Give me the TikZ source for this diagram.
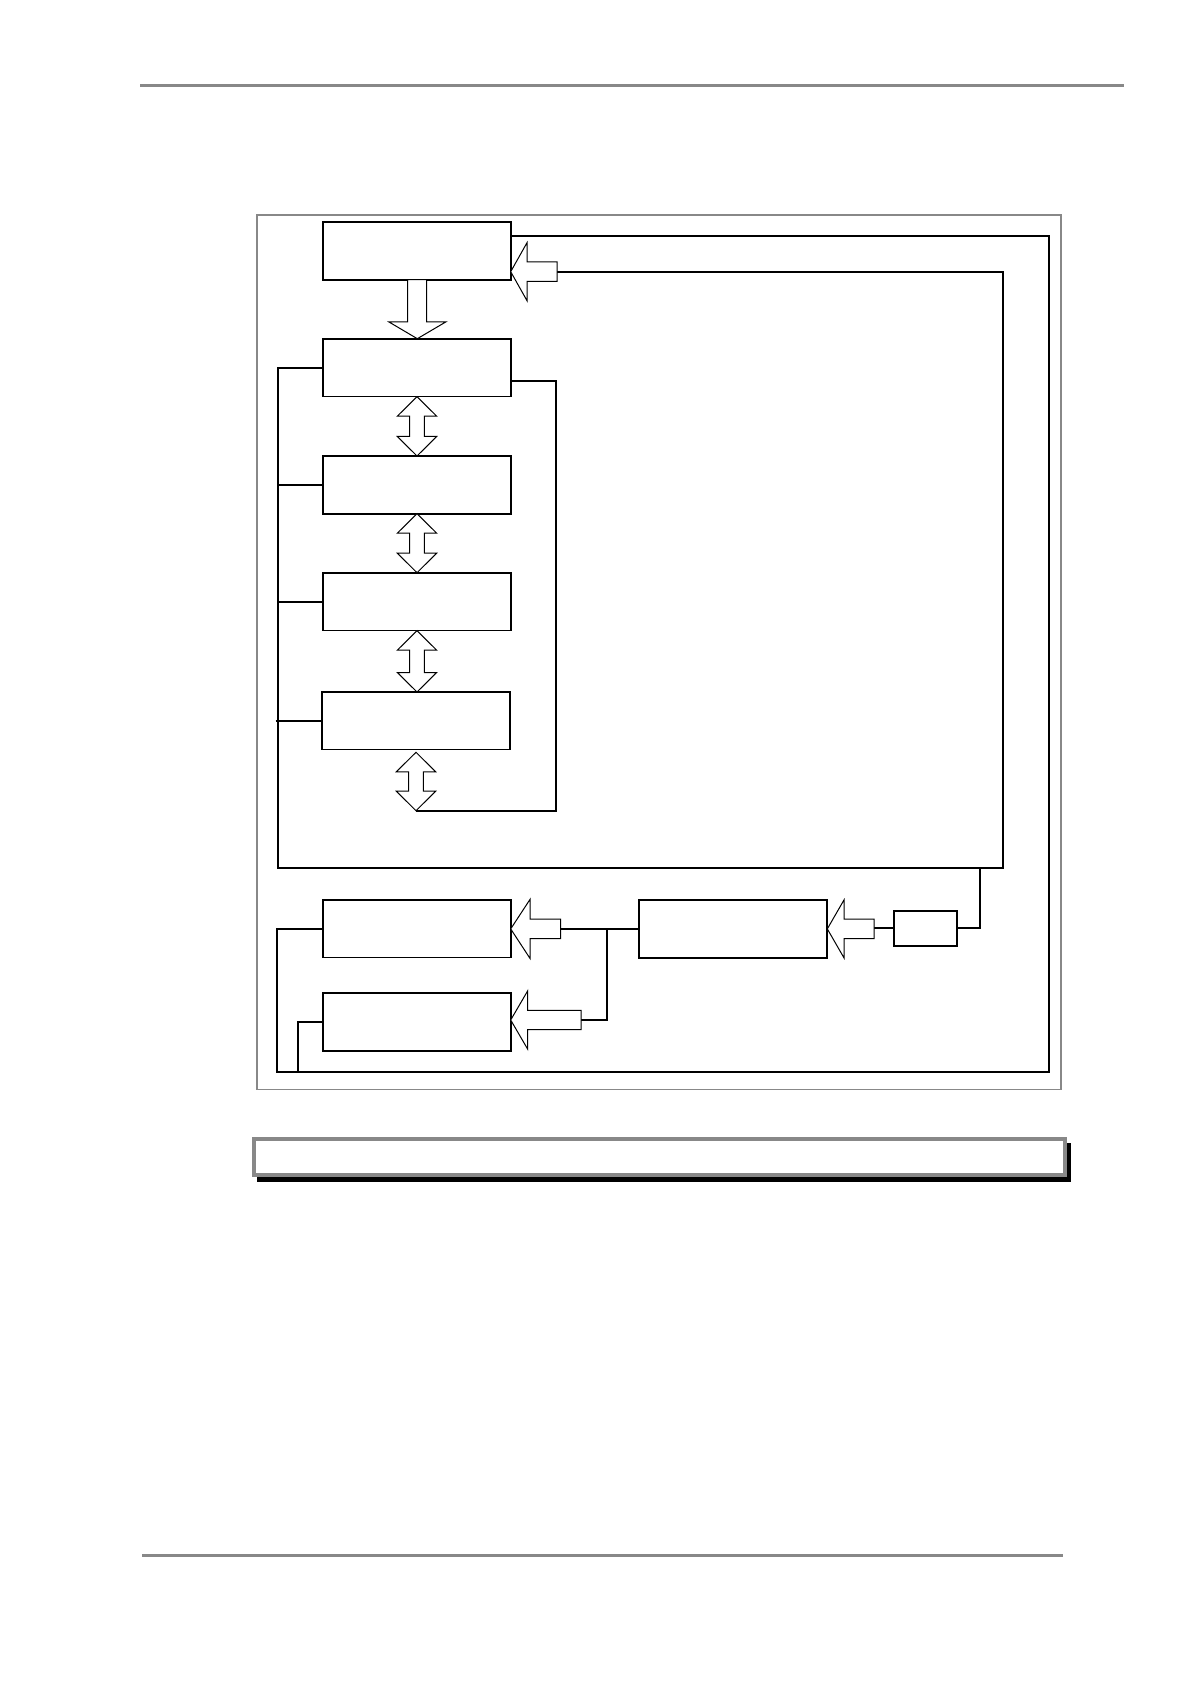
\documentclass[tikz,border=0pt]{standalone}
\definecolor{framegray}{HTML}{888888}
\newcommand\lblk[6]{\draw[blk] (#1,#2) -- (#3,{#2-#4}) -- (#3,{#2-#5}) -- (#6,{#2-#5}) -- (#6,{#2+#5}) -- (#3,{#2+#5}) -- (#3,{#2+#4}) -- cycle;}
\newcommand\dblk[3]{\draw[blk] (#1,#2) -- ({#1+19.7},{#2+19.5}) -- ({#1+7.3},{#2+19.5}) -- ({#1+7.3},{#3-19.5}) -- ({#1+19.7},{#3-19.5}) -- (#1,#3) -- ({#1-19.7},{#3-19.5}) -- ({#1-7.3},{#3-19.5}) -- ({#1-7.3},{#2+19.5}) -- ({#1-19.7},{#2+19.5}) -- cycle;}
\begin{document}
\begin{tikzpicture}[x=0.5pt,y=-0.5pt,
  box/.style={draw,line width=0.85pt,minimum width=93.7pt,minimum height=28.85pt,inner sep=0pt,outer sep=0pt},
  wire/.style={line width=0.85pt,line join=miter},
  blk/.style={draw,line width=0.5pt,fill=white,line join=miter},
  frm/.style={draw=framegray,line width=0.8pt}]
\useasboundingbox (0,0) rectangle (1191,1684);
% page rules
\draw[framegray,line width=1.5pt] (140,85.3) -- (1124,85.3);
\draw[framegray,line width=1.5pt] (142,1555.3) -- (1062.7,1555.3);
% frame
\draw[frm] (257,215) rectangle (1061,1089.5);
% boxes
\node[box] (b1) at (417,251) {};
\node[box] (b2) at (417,367.7) {};
\node[box] (b3) at (417,485) {};
\node[box] (b4) at (417,601.7) {};
\node[box,minimum width=94.15pt] (b5) at (415.85,720.7) {};
\node[box] (b6) at (417,928.7) {};
\node[box] (b7) at (417,1021.9) {};
\node[box,minimum width=94pt] (b8) at (733.3,928.9) {};
\node[box,minimum width=31.5pt,minimum height=17.65pt] (b9) at (925.8,928.3) {};
% coordinates
\coordinate (o1) at (1049,235.7);
\coordinate (o2) at (1049,1072.3);
\coordinate (o3) at (277.3,1072.3);
\coordinate (o4) at (297.7,1072.3);
\coordinate (a1end) at (557,271.7);
\coordinate (i1) at (1003.3,271.7);
\coordinate (i2) at (1003.3,868);
\coordinate (i3) at (277.7,868);
\coordinate (k1) at (979.7,868);
\coordinate (r1) at (555.7,381);
\coordinate (r2) at (555.7,810.7);
\coordinate (r3) at (416,810.7);
\coordinate (a8end) at (874,928.3);
\coordinate (a6end) at (560.7,928.9);
\coordinate (j1) at (607,928.9);
\coordinate (j2) at (607,1020);
\coordinate (a7end) at (581,1020);
% wires
\draw[wire] (b1.east |- o1) -- (o1) -- (o2) -- (o3) |- (b6.west);
\draw[wire] (o4) |- (b7.west);
\draw[wire] (a1end) -- (i1) -- (i2) -- (i3) |- (b2.west);
\draw[wire] (b3.west -| i3) -- (b3.west);
\draw[wire] (b4.west -| i3) -- (b4.west);
\draw[wire] ([xshift=-1pt]b5.west -| i3) -- (b5.west);
\draw[wire] (b2.east |- r1) -- (r1) -- (r2) -- (r3);
\draw[wire] (k1) |- (b9.east);
\draw[wire] (b9.west) -- (a8end);
\draw[wire] (b8.west) -- (a6end);
\draw[wire] (j1) -- (j2) -- (a7end);
% block arrows
\lblk{510.7}{271.7}{527}{29}{9.8}{557}
\lblk{510.7}{928.9}{530}{29.5}{9.8}{560.7}
\lblk{510.7}{1020}{527.7}{29.2}{9.7}{581}
\lblk{827.3}{928.9}{844}{29}{9.8}{874}
\draw[blk] (417.3,338.7) -- (445.7,322) -- (426.7,322) -- (426.7,279.7) -- (407.7,279.7) -- (407.7,322) -- (389,322) -- cycle;
\dblk{417}{396.7}{456}
\dblk{417}{513.7}{572.7}
\dblk{417}{630.7}{692}
\dblk{416}{752.3}{810.7}
% caption box
\fill[black] (256.5,1143) rectangle (1071,1182.3);
\draw[draw=framegray,line width=2pt,fill=white] (254.3,1139.3) rectangle (1064.7,1175.3);
\end{tikzpicture}
\end{document}
